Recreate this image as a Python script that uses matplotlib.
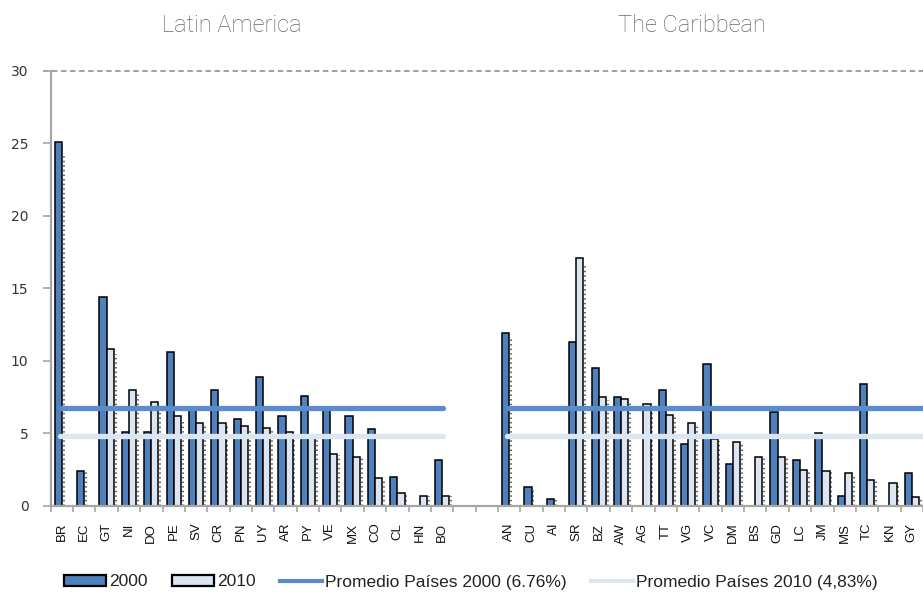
import numpy as np
import matplotlib
matplotlib.use('Agg')
import matplotlib.pyplot as plt
from matplotlib.patches import Patch
from matplotlib.lines import Line2D

# ---- data ----
latin_codes = ['BR', 'EC', 'GT', 'NI', 'DO', 'PE', 'SV', 'CR', 'PN', 'UY',
               'AR', 'PY', 'VE', 'MX', 'CO', 'CL', 'HN', 'BO']
latin_2000 = [25.1, 2.4, 14.4, 5.1, 5.1, 10.6, 6.6, 8.0, 6.0, 8.9,
              6.2, 7.6, 6.7, 6.2, 5.3, 2.0, None, 3.2]
latin_2010 = [None, None, 10.8, 8.0, 7.2, 6.2, 5.7, 5.7, 5.5, 5.4,
              5.1, 4.9, 3.6, 3.4, 1.9, 0.9, 0.7, 0.7]

carib_codes = ['AN', 'CU', 'AI', 'SR', 'BZ', 'AW', 'AG', 'TT', 'VG', 'VC',
               'DM', 'BS', 'GD', 'LC', 'JM', 'MS', 'TC', 'KN', 'GY']
carib_2000 = [11.9, 1.3, 0.5, 11.3, 9.5, 7.5, None, 8.0, 4.3, 9.8,
              2.9, None, 6.5, 3.2, 5.0, 0.7, 8.4, None, 2.3]
carib_2010 = [None, None, None, 17.1, 7.5, 7.4, 7.0, 6.3, 5.7, 4.6,
              4.4, 3.4, 3.4, 2.5, 2.4, 2.3, 1.8, 1.6, 0.6]

avg_2000 = 6.76
avg_2010 = 4.83
group_titles = ['Latin America', 'The Caribbean']
legend_labels = ['2000', '2010', 'Promedio Países 2000 (6.76%)',
                 'Promedio Países 2010 (4,83%)']

blue = '#4f81bd'
light = '#dce6f2'
line_blue = '#5a8ccb'
gray = '#a6a6a6'

gap = 2
x_lat = np.arange(len(latin_codes))
x_car = np.arange(len(carib_codes)) + len(latin_codes) + gap
xs = np.concatenate([x_lat, x_car])
codes = latin_codes + carib_codes
v2000 = latin_2000 + carib_2000
v2010 = latin_2010 + carib_2010

fig = plt.figure(figsize=(9.23, 6), dpi=100)
ax = fig.add_axes([0.0549, 0.1567, 0.9451, 0.7255])

bw = 0.32
# dotted "shadow" right of the right-most bar of each pair
for x, a, b in zip(xs, v2000, v2010):
    if b is not None:
        ax.vlines(x + 0.40, 0, b * 0.97, colors='#444444', linestyles=(0, (1, 2)),
                  linewidth=1.1, zorder=1)
    elif a is not None:
        ax.vlines(x + 0.08, 0, a * 0.97, colors='#444444', linestyles=(0, (1, 2)),
                  linewidth=1.1, zorder=1)

for x, a, b in zip(xs, v2000, v2010):
    if a is not None:
        ax.bar(x - bw / 2, a, width=bw, color=blue, edgecolor='black',
               linewidth=1.1, zorder=2)
    if b is not None:
        ax.bar(x + bw / 2, b, width=bw, color=light, edgecolor='black',
               linewidth=1.1, zorder=2)

# average lines per group
for grp in (x_lat, x_car):
    end = grp[-1] if grp is x_lat else xs[-1] + 2
    ax.plot([grp[0] - 0.05, end + 0.05], [avg_2000, avg_2000], color=line_blue,
            lw=3.8, solid_capstyle='round', zorder=4)
    ax.plot([grp[0] - 0.1, end + 0.05], [avg_2010, avg_2010], color=light,
            lw=3.8, solid_capstyle='round', zorder=3)

ax.axhline(30, xmin=-0.009, xmax=1, color='#999999', ls=(0, (3, 2)), lw=1.3,
           clip_on=False, zorder=1)

ax.set_xlim(-0.5, 38.01)
ax.set_ylim(0, 30)
ax.set_yticks(range(0, 31, 5))
ax.set_xticks(xs)
ax.set_xticklabels(codes, rotation=90, fontsize=9.5, color='#111111',
                   family='Liberation Sans', va='top')
ax.set_xticks(np.arange(-0.5, 39, 1), minor=True)
ax.tick_params(axis='x', which='major', length=0, pad=12)
ax.tick_params(axis='x', which='minor', length=4, width=1.2, color=gray)
ax.tick_params(axis='y', length=6, width=1.2, color=gray, labelsize=10,
               labelcolor='#333333', pad=10)

for side in ('top', 'right'):
    ax.spines[side].set_visible(False)
for side in ('left', 'bottom'):
    ax.spines[side].set_color(gray)
    ax.spines[side].set_linewidth(1.6)

title_x = [232 / 923, 692 / 923]
for t, tx in zip(group_titles, title_x):
    fig.text(tx, 1 - 26 / 600, t, ha='center', va='center', fontsize=17,
             color='#666666', family='Roboto', fontweight='light')

handles = [Patch(facecolor=blue, edgecolor='black', linewidth=1.6),
           Patch(facecolor=light, edgecolor='black', linewidth=1.6),
           Line2D([], [], color=line_blue, lw=3),
           Line2D([], [], color=light, lw=3)]
fig.legend(handles, legend_labels, loc='center', ncol=4, frameon=False,
           bbox_to_anchor=(471 / 923, 1 - 582 / 600),
           prop={'family': 'Liberation Sans', 'size': 12.5},
           handlelength=2.4, handleheight=0.63, handletextpad=0.2,
           columnspacing=1.4, labelcolor='#222222', borderpad=0.1)

fig.savefig('out.png', dpi=100)
